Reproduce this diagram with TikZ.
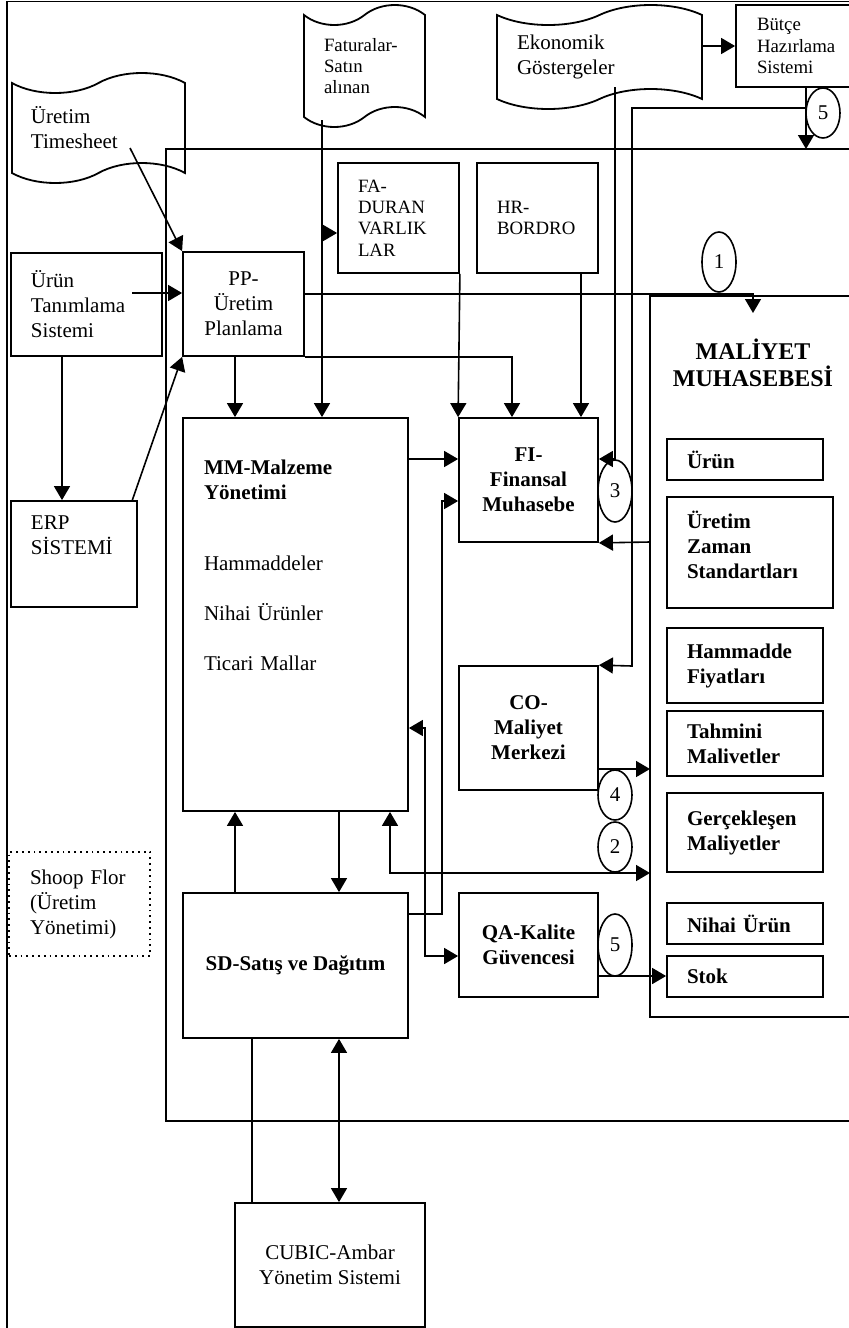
\documentclass[tikz,border=0pt]{standalone}
\usepackage{fontspec}
\setmainfont{Liberation Serif}
\usetikzlibrary{arrows.meta,shapes.geometric,shapes.symbols}

\newcommand{\fsnorm}{\fontsize{10.5}{12.5}\selectfont}
\newcommand{\fssmall}{\fontsize{9.4}{10.6}\selectfont}

\tikzset{
  box/.style={draw, rectangle, line width=0.9pt, inner sep=0pt, font=\fsnorm},
  lbox/.style={box, align=left},
  cbox/.style={box, align=center, font=\fsnorm\bfseries},
  rbox/.style={box, align=left, font=\fsnorm\bfseries, minimum width=78pt, text width=58pt, inner xsep=10pt},
  flag/.style={draw, tape, line width=0.9pt, tape bend height=10pt, inner sep=0pt, align=left, font=\fsnorm},
  num/.style={draw, ellipse, line width=0.8pt, inner sep=0pt, minimum width=17pt, font=\fsnorm},
  frame/.style={line width=0.9pt},
  arr/.style={line width=0.8pt, -{Triangle[length=7pt,width=8pt]}},
  dbl/.style={line width=0.8pt, {Triangle[length=7pt,width=8pt]}-{Triangle[length=7pt,width=8pt]}},
  line/.style={line width=0.8pt}
}

\begin{document}
\begin{tikzpicture}[x=0.5pt, y=-0.5pt]
  \useasboundingbox (0,0) rectangle (849,1328);

  % frames
  \draw[frame] (7,1340) -- (7,1.5) -- (860,1.5);
  \draw[frame] (860,149) -- (166,149) -- (166,1121) -- (860,1121);
  \draw[frame] (860,296) -- (650,296) -- (650,1017) -- (860,1017);

  % outside sources
  \node[flag, minimum width=86.5pt, minimum height=55pt, text width=67.5pt, inner xsep=9.5pt] (tsheet) at (98.5,128) {Üretim\\Timesheet};
  \node[flag, font=\fssmall, minimum width=60.5pt, minimum height=61pt, text width=40.5pt, inner xsep=10pt] (fatura) at (364.5,66) {Faturalar-\\Satın\\alınan};
  \node[flag, minimum width=102.5pt, minimum height=52pt, text width=82.5pt, inner xsep=10pt] (ekon) at (599.5,57) {Ekonomik\\Göstergeler};
  \node[lbox, font=\fssmall, minimum width=65pt, minimum height=41pt, text width=44pt, inner xsep=10.5pt] (butce) at (801,46) {Bütçe\\Hazırlama\\Sistemi};

  \node[lbox, minimum width=75.5pt, minimum height=51.5pt, text width=55.5pt, inner xsep=10pt] (urun) at (86.5,304.5) {Ürün\\Tanımlama\\Sistemi};
  \node[lbox, minimum width=63pt, minimum height=53pt, text width=43pt, inner xsep=10pt, text depth=31pt] (erp) at (74,554) {ERP\\SİSTEMİ};
  \node[lbox, dotted, line width=0.7pt, minimum width=69.5pt, minimum height=52pt, text width=49.5pt, inner xsep=10.5pt] (shoop) at (79.5,904) {Shoop Flor\\(Üretim\\Yönetimi)};

  % modules
  \node[box, align=center, minimum width=60.5pt, minimum height=52pt] (pp) at (243.5,304) {PP-\\Üretim\\Planlama};
  \node[lbox, font=\fssmall, minimum width=60.5pt, minimum height=55pt, text width=40.5pt, inner xsep=10pt] (fa) at (398.5,218) {FA-\\DURAN\\VARLIK\\LAR};
  \node[lbox, font=\fssmall, minimum width=60.5pt, minimum height=55pt, text width=40.5pt, inner xsep=10pt] (hr) at (537.5,218) {HR-\\BORDRO};
  \node[lbox, minimum width=112.5pt, minimum height=196.5pt, text width=91.5pt, inner xsep=10.5pt, text depth=147pt] (mm) at (295.5,614.5)
    {\textbf{MM-Malzeme}\\\textbf{Yönetimi}\\[23pt]Hammaddeler\\[12.5pt]Nihai Ürünler\\[12.5pt]Ticari Mallar};
  \node[cbox, minimum width=69.5pt, minimum height=62pt] (fi) at (528.5,480) {FI-\\Finansal\\Muhasebe};
  \node[cbox, minimum width=69.5pt, minimum height=62pt] (co) at (528.5,728) {CO-\\Maliyet\\Merkezi};
  \node[cbox, minimum width=69.5pt, minimum height=52pt] (qa) at (528.5,945) {QA-Kalite\\Güvencesi};
  \node[cbox, minimum width=112.5pt, minimum height=72.5pt] (sd) at (295.5,965.5) {SD-Satış ve Dağıtım};
  \node[box, align=center, minimum width=95pt, minimum height=62pt] (cubic) at (330,1265) {CUBIC-Ambar\\Yönetim Sistemi};

  % cost accounting
  \node[align=center, font=\fontsize{12}{13.5}\selectfont\bfseries] (mtitle) at (753,363) {MALİYET\\MUHASEBESİ};
  \node[rbox, minimum height=20.5pt] (murun) at (745,459.5) {Ürün};
  \node[rbox, minimum width=83pt, text width=63pt, minimum height=55.5pt, text depth=33pt] (mzaman) at (750,552.5) {Üretim\\Zaman\\Standartları};
  \node[rbox, minimum height=37.5pt] (mhammadde) at (745,665.5) {Hammadde\\Fiyatları};
  \node[rbox, minimum height=32.5pt] (mtahmini) at (745,743.5) {Tahmini\\Malivetler};
  \node[rbox, minimum height=39.5pt] (mgercek) at (745,832.5) {Gerçekleşen\\Maliyetler};
  \node[rbox, minimum height=20.5pt] (mnihai) at (745,923.5) {Nihai Ürün};
  \node[rbox, minimum height=20.5pt] (mstok) at (745,976.5) {Stok};

  % numbered flows
  \node[num, minimum height=30pt] (n1) at (719,262) {1};
  \node[num, minimum height=25pt] (n5) at (823,113) {5};
  \node[num, minimum height=31pt] (n3) at (615,491) {3};
  \node[num, minimum height=25pt] (n4) at (615,795) {4};
  \node[num, minimum height=25pt] (n2) at (615,847) {2};
  \node[num, minimum height=31pt] (n5b) at (615,945) {5};

  \coordinate (tsout) at (130,148);
  \coordinate (urunout) at (132,293);
  \coordinate (erpout) at (132,501);
  \coordinate (fatout) at (322,120);
  \coordinate (ekout) at (615,87);
  \coordinate (mtop) at (753,313);

  % connectors
  \draw[arr] (tsout) -- (pp.north west);
  \draw[arr] (urunout) -- (pp.west |- urunout);
  \draw[arr] (62,0 |- urun.south) -- (62,0 |- erp.north);
  \draw[arr] (erpout) -- (pp.south west);
  \draw[arr] (235,0 |- pp.south) -- (235,0 |- mm.north);
  \draw[arr] (pp.south east) -| (512,0 |- fi.north);
  \draw[arr] (pp.east |- 0,294) -| (mtop);
  \draw[arr] (fatout) -- (322,0 |- mm.north);
  \draw[arr] (322,233) -- (fa.west |- 0,233);
  \draw[arr] (fa.south east) -- (fi.north west);
  \draw[arr] (581,0 |- hr.south) -- (581,0 |- fi.north);
  \draw[arr] (mm.east |- 0,459) -- (fi.west |- 0,459);
  \draw[arr] (sd.east |- 0,914) -| (442,501) -- (fi.west |- 0,501);
  \draw[dbl] (mm.east |- 0,728) -| (425,956) -- (qa.west |- 0,956);
  \draw[dbl] (390,0 |- mm.south) |- (650,873);
  \draw[arr] (co.east |- 0,769) -- (650,769);
  \draw[arr] (qa.east |- 0,976) -- (mstok.west |- 0,976);
  \draw[arr] (650,542) -- (fi.south east);
  \draw[arr] (ekout) |- (fi.east |- 0,459);
  \draw[arr] (ekon.east |- 0,46) -- (butce.west |- 0,46);
  \draw[arr] (806,0 |- butce.south) -- (806,149);
  \draw[arr] (806,108) -| (632,666) -- (co.north east);
  \draw[arr] (235,0 |- sd.north) -- (235,0 |- mm.south);
  \draw[arr] (339,0 |- mm.south) -- (339,0 |- sd.north);
  \draw[line] (252,0 |- sd.south) -- (252,0 |- cubic.north);
  \draw[dbl] (339,0 |- sd.south) -- (339,0 |- cubic.north);

\end{tikzpicture}
\end{document}
